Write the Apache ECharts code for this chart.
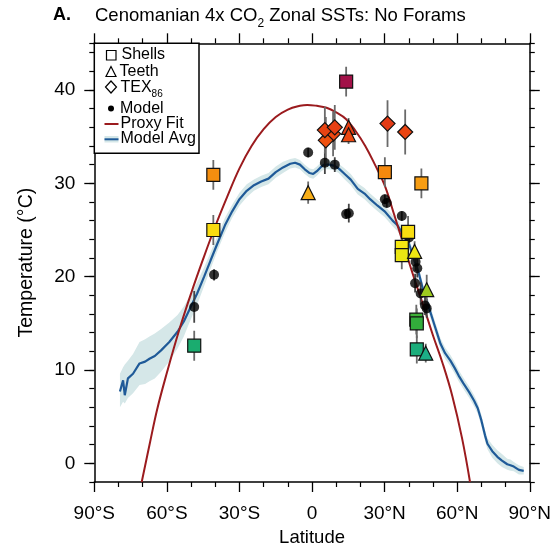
<!DOCTYPE html>
<html>
<head>
<meta charset="utf-8">
<title>Cenomanian 4x CO2 Zonal SSTs: No Forams</title>
<script src="https://cdn.jsdelivr.net/npm/echarts@6/dist/echarts.min.js"></script>
<style>
    html, body { margin: 0; padding: 0; background: #fff; }
    #chart { width: 554px; height: 552px; }
</style>
</head>
<body>
<div id="chart"></div>
<script>
var FONT = '"Liberation Sans", Arial, Helvetica, sans-serif';

// axis ticks
var latTicks = [-90, -60, -30, 0, 30, 60, 90];
var latTickLabels = ['90°S', '60°S', '30°S', '0', '30°N', '60°N', '90°N'];
var tempTicks = [0, 10, 20, 30, 40];

// Model Avg: zonal mean SST and its spread
var avgLat = [-79.4, -78.1, -77.4, -76.1, -74, -71.3, -69, -67.2, -65, -62.4, -59, -55.6, -53, -50.8, -47.5,
    -44.6, -42, -39.2, -36, -33, -30, -27, -24, -21, -18, -15, -12, -9, -7, -5, -3, -1, 0.5, 2, 3.5, 5, 7, 9, 11,
    13.5, 16, 18.9, 21.7, 24, 27.1, 30, 33.3, 35.3, 37.5, 40.1, 42, 44.2, 46, 48.3, 50.5, 53.1, 55, 57.2, 59, 60.6,
    62.5, 65, 67, 68.5, 70, 71.5, 72.5, 74.5, 76.6, 78.5, 80.7, 82, 83.4, 85.5, 87.5];
var avgT = [7.7, 8.9, 7.3, 9.1, 9.6, 10.7, 10.9, 11.2, 11.5, 12.1, 13.0, 14.1, 15.2, 16.4, 18.2,
    20.0, 21.7, 23.5, 25.5, 27.0, 28.3, 29.2, 29.8, 30.2, 30.5, 31.2, 31.7, 32.1, 32.2, 32.0, 31.5, 31.1, 31.0, 31.3, 31.7, 32.0, 32.0, 31.9, 31.6,
    31.0, 30.4, 29.4, 28.9, 28.3, 27.6, 27.0, 26.0, 25.5, 24.6, 23.5, 22.0, 20.3, 18.5, 16.7, 14.9, 12.8, 11.8, 11.0, 10.2, 9.4,
    8.6, 7.6, 6.7, 5.9, 4.6, 3.0, 2.1, 1.3, 0.7, 0.3, -0.1, -0.2, -0.35, -0.7, -0.8];
var avgLo = [6.0, 6.6, 6.4, 7.0, 7.5, 8.4, 8.5, 8.8, 9.1, 9.8, 10.9, 12.3, 13.6, 15.0, 17.0,
    19.0, 20.8, 22.7, 24.7, 26.3, 27.6, 28.5, 29.2, 29.6, 29.9, 30.6, 31.1, 31.6, 31.7, 31.5, 31.0, 30.6, 30.5, 30.8, 31.2, 31.5, 31.5, 31.4, 31.1,
    30.4, 29.8, 28.8, 28.3, 27.7, 27.0, 26.4, 25.4, 24.9, 24.0, 22.9, 21.4, 19.7, 17.9, 16.1, 14.3, 12.2, 11.2, 10.4, 9.6, 8.8,
    8.0, 7.0, 6.1, 5.3, 4.0, 2.4, 1.5, 0.6, 0.0, -0.4, -0.7, -0.8, -0.85, -1.2, -1.2];
var avgHi = [9.6, 10.3, 10.6, 11.0, 11.7, 13.0, 13.3, 13.6, 13.9, 14.4, 15.1, 15.9, 16.8, 17.8, 19.4,
    21.0, 22.6, 24.3, 26.3, 27.7, 29.0, 29.9, 30.4, 30.8, 31.1, 31.8, 32.3, 32.6, 32.7, 32.5, 32.0, 31.6, 31.5, 31.8, 32.2, 32.5, 32.5, 32.4, 32.1,
    31.6, 31.0, 30.0, 29.5, 28.9, 28.2, 27.6, 26.6, 26.1, 25.2, 24.1, 22.6, 20.9, 19.1, 17.3, 15.5, 13.4, 12.4, 11.6, 10.8, 10.0,
    9.2, 8.2, 7.3, 6.5, 5.2, 3.6, 2.7, 2.0, 1.4, 1.0, 0.5, 0.4, 0.15, -0.2, -0.4];

// Proxy Fit curve
var fitLat = [-70.4, -67, -64, -60, -55, -50, -45, -40, -35, -30, -25, -20, -15, -10, -5, -2,
    2, 6, 10, 14, 18, 22, 26, 30, 34, 38, 42, 46, 50, 54, 58, 62, 65.3];
var fitT = [-2.0, 2.2, 5.8, 9.7, 14.2, 18.2, 21.9, 25.4, 28.6, 31.6, 34.0, 35.8, 37.1, 37.9, 38.3, 38.4,
    38.3, 38.1, 37.6, 36.9, 35.6, 34.0, 32.0, 29.8, 26.6, 23.3, 20.0, 16.9, 13.7, 10.7, 7.2, 2.7, -2.0];

// Shells
var shellLat = [14.1, 30.1, 45.2, -40.8, -40.8, -48.7, 39.7, 37.1, 37.1, 43.1, 43.3, 43.3];
var shellT = [40.9, 31.2, 30.0, 30.9, 25.0, 12.6, 24.8, 23.2, 22.3, 15.4, 15.0, 12.2];
var shellErr = [1.6, 1.6, 1.6, 1.6, 1.6, 1.6, 1.7, 1.5, 1.5, 1.6, 1.6, 1.5];

// Teeth
var teethLat = [-1.6, 15.1, 15.1, 42.4, 47.4, 47.0];
var teethT = [29.0, 36.0, 35.2, 22.7, 18.6, 11.8];
var teethErr = [1.2, 1.0, 1.0, 1.1, 1.6, 1.0];

// TEX86
var texLat = [8.7, 5.7, 5.3, 9.4, 31.2, 38.5];
var texT = [35.3, 34.6, 35.7, 36.0, 36.4, 35.5];
var texErr = [2.4, 2.5, 2.5, 2.4, 2.5, 2.4];

// Model at proxy sites
var modelLat = [-48.7, -40.5, -1.6, 5.3, 9.4, 14.1, 15.2, 30.1, 30.9, 37.1, 40.1, 42.8, 43.5, 42.6, 44.9, 46.7, 47.4];
var modelT = [16.75, 20.2, 33.3, 32.2, 32.0, 26.7, 26.8, 28.3, 27.9, 26.5, 24.2, 21.6, 20.9, 19.3, 18.2, 16.9, 16.6];
var modelErr = [1.7, 0.6, 0.5, 1.2, 0.8, 0.5, 1.0, 0.5, 0.5, 0.5, 0.6, 1.0, 1.0, 1.0, 1.2, 1.0, 1.0];

var ctx = document.createElement('canvas').getContext('2d');
function textWidth(str, size, weight) {
    ctx.font = (weight || 'normal') + ' ' + size + 'px ' + FONT;
    return ctx.measureText(str).width;
}

function pairs(xs, ys) {
    return xs.map(function (x, i) { return [x, ys[i]]; });
}

function errorBars(xs, ys, err, color) {
    return {
        type: 'custom',
        silent: true,
        clip: true,
        z: 3,
        encode: { x: 0, y: [1, 2] },
        data: xs.map(function (x, i) { return [x, ys[i] - err[i], ys[i] + err[i]]; }),
        renderItem: function (params, api) {
            var a = api.coord([api.value(0), api.value(1)]);
            var b = api.coord([api.value(0), api.value(2)]);
            return {
                type: 'line',
                shape: { x1: a[0], y1: a[1], x2: b[0], y2: b[1] },
                style: { stroke: color, lineWidth: 1.8 }
            };
        }
    };
}

function proxySeries(name, xs, ys, symbol, size) {
    return {
        name: name,
        type: 'scatter',
        symbol: symbol,
        symbolSize: size,
        z: 5,
        data: pairs(xs, ys),
        itemStyle: { borderColor: '#111', borderWidth: 1.2, opacity: 1 }
    };
}

function axisX(pos, showLabel) {
    return {
        type: 'value', position: pos, min: -90, max: 90, interval: 30,
        axisLine: { show: true, onZero: false, lineStyle: { color: '#000', width: 1.5 } },
        axisTick: { show: true, inside: false, length: 10, lineStyle: { color: '#000', width: 1.3 } },
        minorTick: { show: true, splitNumber: 3, length: 5, lineStyle: { color: '#000', width: 1.2 } },
        splitLine: { show: false },
        axisLabel: {
            show: showLabel, margin: 22, color: '#000', fontSize: 19, fontFamily: FONT,
            formatter: function (v) { return latTickLabels[latTicks.indexOf(v)]; }
        }
    };
}

function axisYMajor(pos, showLabel) {
    return {
        type: 'value', position: pos, min: -2, max: 45,
        axisLine: { show: true, onZero: false, lineStyle: { color: '#000', width: 1.5 } },
        axisTick: { show: true, inside: false, length: 10, customValues: tempTicks, lineStyle: { color: '#000', width: 1.3 } },
        splitLine: { show: false },
        axisLabel: { show: showLabel, customValues: tempTicks, margin: 19, color: '#000', fontSize: 19, fontFamily: FONT }
    };
}

function axisYMinor(pos) {
    return {
        type: 'value', position: pos, min: -2, max: 45, interval: 2,
        axisLine: { show: false, onZero: false },
        axisTick: { show: true, inside: false, length: 5, lineStyle: { color: '#000', width: 1.2 } },
        splitLine: { show: false },
        axisLabel: { show: false }
    };
}

var xMain = axisX('bottom', true);
xMain.name = 'Latitude';
xMain.nameLocation = 'middle';
xMain.nameGap = 46;
xMain.nameTextStyle = { color: '#000', fontSize: 18.5, fontFamily: FONT };

var yMain = axisYMajor('left', true);
yMain.name = 'Temperature (°C)';
yMain.nameLocation = 'middle';
yMain.nameGap = 58;
yMain.nameTextStyle = { color: '#000', fontSize: 19.5, fontFamily: FONT };

// title and legend are drawn as plain graphic elements
var titleX = 95, titleY = 16, titleSize = 18.5;
var t1 = 'Cenomanian 4x CO';
var w1 = textWidth(t1, titleSize);
var w2 = textWidth('2', 12);
var texW = textWidth('TEX', 16);

var graphics = [
    { type: 'text', left: 53, top: titleY - 10, z: 10,
      style: { text: 'A.', fontSize: 18, fontWeight: 'bold', fontFamily: FONT, fill: '#000' } },
    { type: 'text', x: titleX, y: titleY, z: 10,
      style: { text: t1, fontSize: titleSize, fontFamily: FONT, fill: '#000', verticalAlign: 'middle' } },
    { type: 'text', x: titleX + w1, y: titleY + 8, z: 10,
      style: { text: '2', fontSize: 12, fontFamily: FONT, fill: '#000', verticalAlign: 'middle' } },
    { type: 'text', x: titleX + w1 + w2, y: titleY, z: 10,
      style: { text: ' Zonal SSTs: No Forams', fontSize: titleSize, fontFamily: FONT, fill: '#000', verticalAlign: 'middle' } },

    // legend box
    { type: 'rect', z: 20, shape: { x: 94.3, y: 43.3, width: 104.7, height: 110 },
      style: { fill: '#fff', stroke: '#000', lineWidth: 1.5 } },
    { type: 'rect', z: 21, shape: { x: 106.5, y: 50.5, width: 9.5, height: 9.5 },
      style: { fill: 'none', stroke: '#000', lineWidth: 1.2 } },
    { type: 'polygon', z: 21, shape: { points: [[111, 66.5], [106, 76.5], [116, 76.5]] },
      style: { fill: 'none', stroke: '#000', lineWidth: 1.2 } },
    { type: 'polygon', z: 21, shape: { points: [[111, 81], [116.5, 87], [111, 93], [105.5, 87]] },
      style: { fill: 'none', stroke: '#000', lineWidth: 1.2 } },
    { type: 'circle', z: 21, shape: { cx: 111, cy: 108.5, r: 3 }, style: { fill: '#000' } },
    { type: 'line', z: 21, shape: { x1: 104.5, y1: 124, x2: 118.5, y2: 124 },
      style: { stroke: '#9b1b1e', lineWidth: 2 } },
    { type: 'rect', z: 21, shape: { x: 104.5, y: 136, width: 14, height: 6.5 }, style: { fill: '#d5e7e8' } },
    { type: 'line', z: 22, shape: { x1: 104.5, y1: 139.3, x2: 118.5, y2: 139.3 },
      style: { stroke: '#1f5a98', lineWidth: 2 } }
];

var legendTexts = [
    ['Shells', 121.5, 55],
    ['Teeth', 119.5, 72],
    ['TEX', 120.5, 87.5],
    ['Model', 120, 108.5],
    ['Proxy Fit', 120.5, 123.5],
    ['Model Avg', 120.5, 139]
];
legendTexts.forEach(function (t) {
    graphics.push({ type: 'text', z: 22, x: t[1], y: t[2],
        style: { text: t[0], fontSize: 16, fontFamily: FONT, fill: '#000', verticalAlign: 'middle' } });
});
graphics.push({ type: 'text', z: 22, x: 120.5 + texW, y: 94,
    style: { text: '86', fontSize: 10, fontFamily: FONT, fill: '#000', verticalAlign: 'middle' } });

var option = {
    animation: false,
    backgroundColor: '#fff',
    grid: { left: 94.3, right: 20.7, top: 43.3, bottom: 69.7, containLabel: false },
    xAxis: [xMain, axisX('top', false)],
    yAxis: [yMain, axisYMinor('left'), axisYMajor('right', false), axisYMinor('right')],
    visualMap: {
        type: 'continuous', show: false, seriesIndex: [6, 7, 8], dimension: 1, min: 11, max: 41,
        inRange: { color: ['#1fb3a0', '#15a544', '#6cbd28', '#c9da18', '#f4e812', '#fcd50e',
            '#f8ae18', '#f47c0a', '#ee4a10', '#d62a1a', '#a0104a'] }
    },
    graphic: graphics,
    series: [
        {
            type: 'custom',
            silent: true,
            clip: true,
            z: 1,
            encode: { x: 0, y: [1, 2] },
            data: avgLat.map(function (x, i) { return [x, avgLo[i], avgHi[i]]; }),
            renderItem: function (params, api) {
                if (params.dataIndex !== 0) return null;
                var upper = [], lower = [];
                for (var i = 0; i < avgLat.length; i++) {
                    upper.push(api.coord([avgLat[i], avgHi[i]]));
                    lower.unshift(api.coord([avgLat[i], avgLo[i]]));
                }
                return { type: 'polygon', shape: { points: upper.concat(lower) }, style: { fill: '#d5e7e8' } };
            }
        },
        {
            name: 'Model Avg', type: 'line', z: 2, showSymbol: false, symbol: 'none',
            data: pairs(avgLat, avgT),
            lineStyle: { color: '#1f5a98', width: 2.2 }
        },
        {
            name: 'Proxy Fit', type: 'line', z: 2, showSymbol: false, symbol: 'none', smooth: 0.4,
            data: pairs(fitLat, fitT),
            lineStyle: { color: '#9b1b1e', width: 2 }
        },
        errorBars(modelLat, modelT, modelErr, '#444'),
        errorBars(shellLat.concat(teethLat, texLat), shellT.concat(teethT, texT),
            shellErr.concat(teethErr, texErr), '#6a6a6a'),
        {
            name: 'Model', type: 'scatter', symbol: 'circle', symbolSize: 10, z: 4,
            data: pairs(modelLat, modelT),
            itemStyle: { color: '#000' }
        },
        proxySeries('Shells', shellLat, shellT, 'rect', 13),
        proxySeries('Teeth', teethLat, teethT, 'triangle', 14),
        proxySeries('TEX86', texLat, texT, 'diamond', 15)
    ]
};

var chart = echarts.init(document.getElementById('chart'));
chart.setOption(option);
</script>
</body>
</html>
